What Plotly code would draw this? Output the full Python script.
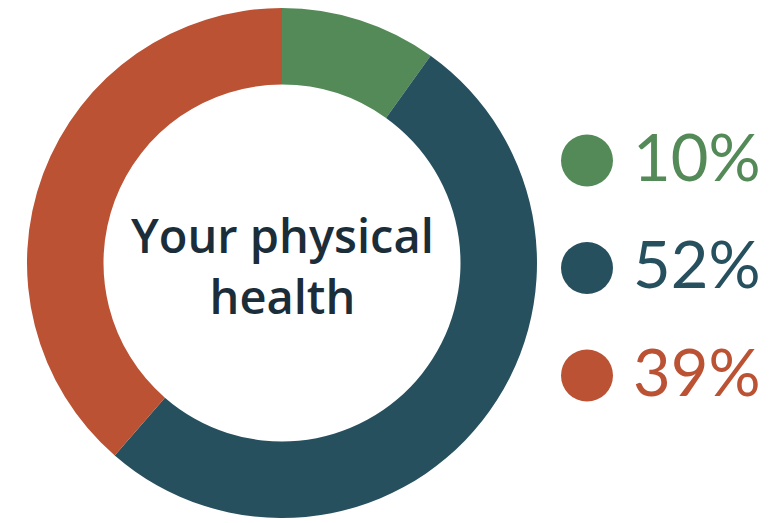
import plotly.graph_objects as go

categories = ["Better", "About the same", "Worse"]
values = [10, 52, 39]
labels = ["10%", "52%", "39%"]
colors = ["#548a57", "#27505f", "#bb5233"]
center_title = "Your physical<br>health"

W, H = 774, 523
OFF = 8  # page body margin offset

fig = go.Figure()
fig.add_trace(go.Pie(
    labels=categories, values=values, hole=0.70, sort=False, direction="clockwise",
    rotation=0, marker=dict(colors=colors, line=dict(width=0)),
    textinfo="none", hoverinfo="skip", showlegend=False,
    domain=dict(x=[(282 - OFF - 255) / W, (282 - OFF + 255) / W], y=[1 - 510 / H, 1]),
))

fig.add_trace(go.Scatter(
    x=[0] * len(labels), y=labels, mode="markers",
    marker=dict(size=52, color=colors, line=dict(width=0)),
    hoverinfo="skip", showlegend=False,
))

for lab, col in zip(labels, colors):
    fig.add_annotation(x=0, y=lab, text=lab, showarrow=False, xanchor="left",
                       yanchor="middle", xshift=44, yshift=5,
                       font=dict(family="Lato", size=65, color=col))

fig.add_annotation(x=(282 - OFF) / W, y=1 - (265 - OFF) / H, xref="paper", yref="paper",
                   text=center_title, showarrow=False, align="center",
                   font=dict(family="Open Sans", size=47, weight=600, color="#1b2d38"))

fig.update_layout(
    width=W, height=H, margin=dict(l=0, r=0, t=0, b=0),
    paper_bgcolor="white", plot_bgcolor="rgba(0,0,0,0)",
    xaxis=dict(range=[-(587 - OFF), W - (587 - OFF)], visible=False, fixedrange=True),
    yaxis=dict(type="category", range=[1 + (H - (268 - OFF)) / 107.5, 1 - (268 - OFF) / 107.5],
               visible=False, fixedrange=True),
)

fig.write_html("out.html")
